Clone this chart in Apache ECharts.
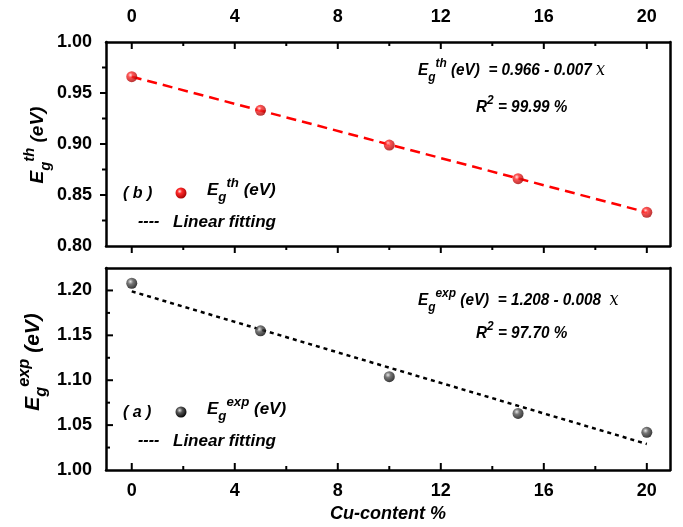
<!DOCTYPE html>
<html><head><meta charset="utf-8">
<script src="https://cdn.jsdelivr.net/npm/echarts@6/dist/echarts.min.js"></script>
<style>html,body{margin:0;padding:0;background:#fff}#c{width:683px;height:527px}</style>
</head><body><div id="c"></div>
<script>
const cuContent = [0, 5, 10, 15, 20];
const egTh = [0.966, 0.933, 0.899, 0.866, 0.833];
const egExp = [1.208, 1.155, 1.104, 1.063, 1.042];
const fitX = [0, 20];
const fitTh = [0.966, 0.833];
const fitExp = [1.199, 1.029];
const xTicks = [0, 4, 8, 12, 16, 20];
const xMinorTicks = [2, 6, 10, 14, 18];
const thTicks = [0.85, 0.90, 0.95];
const thMinorTicks = [0.825, 0.875, 0.925, 0.975];
const expTicks = [1.05, 1.10, 1.15, 1.20];
const expMinorTicks = [1.025, 1.075, 1.125, 1.175];

const X_MIN = -1, X_MAX = 20.9;
const FONT = 'Liberation Sans, Arial, sans-serif';
const redBall = {type:'radial',x:0.38,y:0.35,r:0.7,colorStops:[{offset:0,color:'#ffe0e0'},{offset:0.3,color:'#ff2a2a'},{offset:1,color:'#a00000'}]};
const blackBall = {type:'radial',x:0.38,y:0.35,r:0.7,colorStops:[{offset:0,color:'#e0e0e0'},{offset:0.35,color:'#555'},{offset:1,color:'#000'}]};

const tickLbl = {color:'#000',fontFamily:FONT,fontWeight:'bold',fontSize:18};
function aLine(){return {show:true,onZero:false,lineStyle:{color:'#000',width:2.5}};}

function xAx(gi,pos,labels,extra){
  return Object.assign({type:'value',gridIndex:gi,position:pos,min:X_MIN,max:X_MAX,
    axisLine:aLine(),splitLine:{show:false},axisTick:{show:false},
    axisLabel:Object.assign({show:labels,margin:pos==='top'?16:12,customValues:xTicks},tickLbl)},extra||{});
}
function yAx(gi,pos,min,max,labels){
  return {type:'value',gridIndex:gi,position:pos,min:min,max:max,interval:0.05,
    axisLine:aLine(),splitLine:{show:false},axisTick:{show:false},
    axisLabel:Object.assign({show:labels,margin:14,formatter:v=>v.toFixed(2),showMaxLabel:max===1.0},tickLbl)};
}

const ital = {fontFamily:FONT,fontWeight:'bold',fontStyle:'italic',color:'#000'};
function richEq(base){
  return {
    n:Object.assign({fontSize:base,lineHeight:base*1.6,verticalAlign:'middle'},ital),
    sub:Object.assign({fontSize:base*0.78,lineHeight:base*1.6,verticalAlign:'bottom'},ital),
    sup:Object.assign({fontSize:base*0.78,lineHeight:base*1.6,verticalAlign:'top'},ital),
    x:{fontFamily:'DejaVu Serif, Liberation Serif, serif',fontStyle:'italic',fontSize:base*1.05,lineHeight:base*1.6,verticalAlign:'middle',color:'#000'}
  };
}
function txt(x,y,text,base,sx){
  return {type:'text',x:x,y:y,scaleX:sx||1,style:{text:text,rich:richEq(base),fill:'#000',font:'italic bold '+base+'px '+FONT,verticalAlign:'middle'}};
}
function vtxt(x,y,text,base){
  return {type:'text',x:x,y:y,rotation:Math.PI/2,style:{text:text,rich:richEq(base),fill:'#000',font:'italic bold '+base+'px '+FONT,align:'center',verticalAlign:'middle'}};
}

const texts = [
  vtxt(38,145,'{n|E}{sub|g}{sup|th}{n| (eV)}',19),
  vtxt(33,362,'{n|E}{sub|g}{sup|exp}{n| (eV)}',21),
  txt(418,70,'{n|E}{sub|g}{sup|th}{n| (eV)  = 0.966 - 0.007 }{x|x}',17,0.9),
  txt(476,107,'{n|R}{sup|2}{n| = 99.99 %}',17,0.9),
  txt(418,300,'{n|E}{sub|g}{sup|exp}{n| (eV)  = 1.208 - 0.008  }{x|x}',17,0.9),
  txt(476,333,'{n|R}{sup|2}{n| = 97.70 %}',17,0.9),
  txt(123,194,'{n|( b )}',16),
  {type:'circle',shape:{cx:181,cy:193,r:5.5},style:{fill:redBall}},
  txt(207,190,'{n|E}{sub|g}{sup|th}{n| (eV)}',17),
  txt(138,222,'{n|----}',16),
  txt(173,222,'{n|Linear fitting}',17),
  txt(123,413,'{n|( a )}',16),
  {type:'circle',shape:{cx:181,cy:412,r:5.5},style:{fill:blackBall}},
  txt(207,409,'{n|E}{sub|g}{sup|exp}{n| (eV)}',17),
  txt(138,441,'{n|----}',16),
  txt(173,441,'{n|Linear fitting}',17)
];

const option = {
  animation:false,
  grid:[{left:106,right:13,top:42,height:204},{left:106,right:13,top:268,height:202}],
  xAxis:[
    xAx(0,'bottom',false),
    xAx(0,'top',true),
    xAx(1,'bottom',true,{name:'Cu-content %',nameLocation:'middle',nameGap:35,nameTextStyle:{fontFamily:FONT,fontWeight:'bold',fontStyle:'italic',fontSize:18,color:'#000'}}),
    xAx(1,'top',false)
  ],
  yAxis:[
    yAx(0,'left',0.80,1.00,true),
    yAx(0,'right',0.80,1.00,false),
    yAx(1,'left',1.00,1.225,true),
    yAx(1,'right',1.00,1.225,false)
  ],
  series:[
    {type:'line',xAxisIndex:0,yAxisIndex:0,data:fitX.map((x,i)=>[x,fitTh[i]]),symbol:'none',lineStyle:{color:'#ff0000',width:2.5,type:[10,6]},z:2},
    {type:'scatter',xAxisIndex:0,yAxisIndex:0,data:cuContent.map((x,i)=>[x,egTh[i]]),symbolSize:11,itemStyle:{color:redBall},z:3},
    {type:'line',xAxisIndex:2,yAxisIndex:2,data:fitX.map((x,i)=>[x,fitExp[i]]),symbol:'none',lineStyle:{color:'#000',width:2.5,type:[4,4]},z:2},
    {type:'scatter',xAxisIndex:2,yAxisIndex:2,data:cuContent.map((x,i)=>[x,egExp[i]]),symbolSize:11,itemStyle:{color:blackBall},z:3}
  ],
  graphic:texts
};
const chart = echarts.init(document.getElementById('c'));
chart.setOption(option);

// tick marks, positioned via the chart's own axis scales
const ticks = [];
function xt(xi,yi,atY,vals,len,dir){
  vals.forEach(v=>{
    const p = chart.convertToPixel({xAxisIndex:xi,yAxisIndex:yi},[v,atY]);
    ticks.push({type:'line',z:100,shape:{x1:p[0],y1:p[1],x2:p[0],y2:p[1]+dir*len},style:{stroke:'#000',lineWidth:2}});
  });
}
function yt(xi,yi,atX,vals,len,dir){
  vals.forEach(v=>{
    const p = chart.convertToPixel({xAxisIndex:xi,yAxisIndex:yi},[atX,v]);
    ticks.push({type:'line',z:100,shape:{x1:p[0],y1:p[1],x2:p[0]+dir*len,y2:p[1]},style:{stroke:'#000',lineWidth:2}});
  });
}
xt(0,0,1.00,xTicks,7,1); xt(0,0,1.00,xMinorTicks,4,1);
xt(0,0,0.80,xTicks,7,1); xt(0,0,0.80,xMinorTicks,4,1);
yt(0,0,X_MIN,thTicks,6,-1); yt(0,0,X_MIN,thMinorTicks,4,-1);
xt(2,2,1.00,xTicks,7,-1); xt(2,2,1.00,xMinorTicks,4,-1);
yt(2,2,X_MIN,expTicks,7,1); yt(2,2,X_MIN,expMinorTicks,4,1);
chart.setOption({graphic:texts.concat(ticks)});
</script></body></html>
